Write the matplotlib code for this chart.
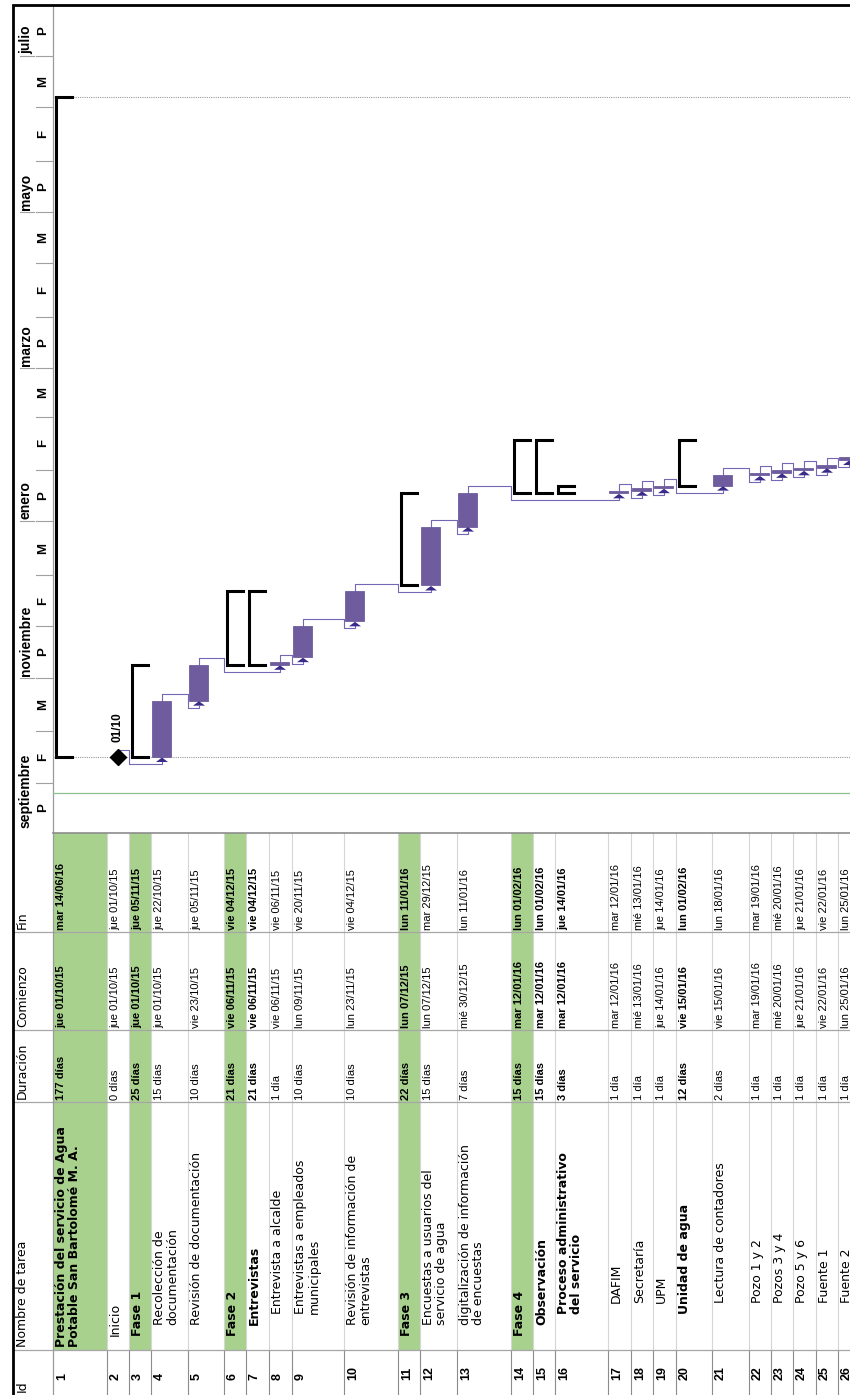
import datetime as dt

import numpy as np
import matplotlib.pyplot as plt
import matplotlib.dates as mdates

plt.rcParams['font.family'] = ['Liberation Sans', 'DejaVu Sans']

# ── Data ──────────────────────────────────────────────────────────────────────
IDS = list(range(1, 27))
NAMES = [
    "Prestación del servicio de Agua\nPotable San Bartolomé M. A.",
    "Inicio",
    "Fase 1",
    "Recolección de\ndocumentación",
    "Revisión de documentación",
    "Fase 2",
    "Entrevistas",
    "Entrevista a alcalde",
    "Entrevistas a empleados\nmunicipales",
    "Revisión de información de\nentrevistas",
    "Fase 3",
    "Encuestas a usuarios del\nservicio de agua",
    "digitalización de información\nde encuestas",
    "Fase 4",
    "Observación",
    "Proceso administrativo\ndel servicio",
    "DAFIM",
    "Secretaría",
    "UPM",
    "Unidad de agua",
    "Lectura de contadores",
    "Pozo 1 y 2",
    "Pozos 3 y 4",
    "Pozo 5 y 6",
    "Fuente 1",
    "Fuente 2",
]
DURATION_DAYS = [177, 0, 25, 15, 10, 21, 21, 1, 10, 10, 22, 15, 7,
                 15, 15, 3, 1, 1, 1, 12, 2, 1, 1, 1, 1, 1]
START = ["2015-10-01", "2015-10-01", "2015-10-01", "2015-10-01", "2015-10-23",
         "2015-11-06", "2015-11-06", "2015-11-06", "2015-11-09", "2015-11-23",
         "2015-12-07", "2015-12-07", "2015-12-30", "2016-01-12", "2016-01-12",
         "2016-01-12", "2016-01-12", "2016-01-13", "2016-01-14", "2016-01-15",
         "2016-01-15", "2016-01-19", "2016-01-20", "2016-01-21", "2016-01-22",
         "2016-01-25"]
FINISH = ["2016-06-14", "2015-10-01", "2015-11-05", "2015-10-22", "2015-11-05",
          "2015-12-04", "2015-12-04", "2015-11-06", "2015-11-20", "2015-12-04",
          "2016-01-11", "2015-12-29", "2016-01-11", "2016-02-01", "2016-02-01",
          "2016-01-14", "2016-01-12", "2016-01-13", "2016-01-14", "2016-02-01",
          "2016-01-18", "2016-01-19", "2016-01-20", "2016-01-21", "2016-01-22",
          "2016-01-25"]
KIND = ["sum", "mile", "sum", "task", "task", "sum", "sum", "task", "task",
        "task", "sum", "task", "task", "sum", "sum", "sum", "task", "task",
        "task", "sum", "task", "task", "task", "task", "task", "task"]
LEVEL = [0, 1, 1, 2, 2, 1, 2, 3, 3, 2, 1, 2, 2, 1, 2, 3, 4, 4, 4, 3,
         4, 4, 4, 4, 4, 4]
PHASES = [1, 3, 6, 11, 14]          # rows shaded green in the table
LINKS = [(2, 4), (4, 5), (5, 8), (8, 9), (9, 10), (10, 12), (12, 13),
         (13, 17), (17, 18), (18, 19), (19, 21), (21, 22), (22, 23),
         (23, 24), (24, 25), (25, 26)]

MONTH_LABELS = ["septiembre", "noviembre", "enero", "marzo", "mayo", "julio"]
MONTH_STARTS = ["2015-09-01", "2015-11-01", "2016-01-01", "2016-03-01",
                "2016-05-01", "2016-07-01"]
THIRD_LABELS = ["P", "F", "M"] * 6
THIRD_STARTS = ["2015-09-01", "2015-09-21", "2015-10-11", "2015-11-01",
                "2015-11-21", "2015-12-11", "2016-01-01", "2016-01-21",
                "2016-02-11", "2016-03-01", "2016-03-21", "2016-04-11",
                "2016-05-01", "2016-05-21", "2016-06-11", "2016-07-01",
                "2016-07-21", "2016-08-11"]
STATUS_DATE = "2015-09-17"

HEADERS = ["Id", "Nombre de tarea", "Duración", "Comienzo", "Fin"]
WEEKDAYS = ["lun", "mar", "mié", "jue", "vie", "sáb", "dom"]

# ── Layout (pixels, rotated printout) ─────────────────────────────────────────
W, H = 850, 1395
ROW_HEIGHTS = [54, 22, 22, 37, 36, 22, 23, 23, 52, 54, 22, 37, 54, 22, 22,
               53, 23, 22, 23, 36, 37, 22, 22, 23, 22, 22]
ROW0 = 53
CHART_TOP, CHART_BOT = 5, 833
LEFT = 13
COL_EDGES = [1395, 1350, 1102, 1030, 932, 833]   # Id | Nombre | Dur | Com | Fin
PX_PER_DAY = 2.56
Y_PROJECT_START = 757

BAR_COLOR = "#6e5c9e"
LINK_COLOR = "#7565b5"
ARROW_COLOR = "#3a2a8a"
GREEN = "#a9d18e"
FS = 8
NAME_FONT = ['DejaVu Sans']
NAME_FS = 9
SCALE_FONT = ['Liberation Sans Narrow', 'Liberation Sans']

row_top = ROW0 + np.concatenate([[0], np.cumsum(ROW_HEIGHTS)])
d_start = mdates.datestr2num(START)
d_end = mdates.datestr2num(FINISH) + 1          # bars end at end of finish day
d0 = mdates.datestr2num("2015-10-01")
D_TOP = d0 + (Y_PROJECT_START - CHART_TOP) / PX_PER_DAY
D_BOT = d0 - (CHART_BOT - Y_PROJECT_START) / PX_PER_DAY
day_px = 1 / PX_PER_DAY


def fmt_date(s):
    d = dt.date.fromisoformat(s)
    return f"{WEEKDAYS[d.weekday()]} {d:%d/%m/%y}"


def fmt_dur(n):
    return f"{n} día" if n == 1 else f"{n} días"


fig = plt.figure(figsize=(W / 100, H / 100), dpi=100)

# background / table axes in pixel coordinates
bg = fig.add_axes([0, 0, 1, 1])
bg.set_xlim(0, W)
bg.set_ylim(H, 0)
bg.axis("off")

# chart axes: x in pixels (rows), y in dates
ax = fig.add_axes([LEFT / W, 1 - CHART_BOT / H, (W - LEFT) / W,
                   (CHART_BOT - CHART_TOP) / H])
ax.set_xlim(LEFT, W)
ax.set_ylim(D_BOT, D_TOP)
ax.axis("off")
ax.patch.set_alpha(0)

# ── Table ─────────────────────────────────────────────────────────────────────
for rid in PHASES:
    i = rid - 1
    bg.bar(row_top[i], COL_EDGES[1] - CHART_BOT, width=ROW_HEIGHTS[i],
           bottom=CHART_BOT, align="edge", color=GREEN, lw=0, zorder=0)

for x in row_top[1:]:
    bg.plot([x, x], [CHART_BOT, COL_EDGES[1]], color="#d6d6d6", lw=0.8, zorder=1)
    bg.plot([x, x], [COL_EDGES[1], H], color="#8c8c8c", lw=0.8, zorder=1)
for y in COL_EDGES[1:-1]:
    bg.plot([LEFT, W], [y, y], color="#a6a6a6", lw=0.9, zorder=1)
bg.plot([ROW0, ROW0], [CHART_TOP, H], color="#9a9a9a", lw=0.9, zorder=1)
bg.plot([ROW0, W], [CHART_BOT, CHART_BOT], color="#8c8c8c", lw=1.2, zorder=1)

# outer border
bg.plot([LEFT, LEFT, W], [H, CHART_TOP, CHART_TOP], color="black", lw=2,
        solid_joinstyle="miter", zorder=3)

txt = dict(rotation=90, rotation_mode="anchor", ha="left", va="top",
           color="black")
for k, label in enumerate(HEADERS):
    bg.text(16, COL_EDGES[k] - 3, label, fontsize=NAME_FS, family=NAME_FONT,
            **txt)

for i in range(len(IDS)):
    bold = "bold" if KIND[i] == "sum" else "normal"
    x = row_top[i] + 3
    bg.text(x, 1380, str(IDS[i]), fontweight="bold", fontsize=FS + 1, **txt)
    bg.text(x - 1, COL_EDGES[1] - 3 - 11 * LEVEL[i], NAMES[i], fontweight=bold,
            fontsize=NAME_FS, family=NAME_FONT, linespacing=1.05, **txt)
    bg.text(x, COL_EDGES[2] - 2, fmt_dur(DURATION_DAYS[i]), fontweight=bold,
            fontsize=FS, **txt)
    bg.text(x, COL_EDGES[3] - 2, fmt_date(START[i]), fontweight=bold,
            fontsize=FS, **txt)
    bg.text(x, COL_EDGES[4] - 2, fmt_date(FINISH[i]), fontweight=bold,
            fontsize=FS, **txt)

# ── Timescale ─────────────────────────────────────────────────────────────────
m_num = mdates.datestr2num(MONTH_STARTS)
for lab, m in zip(MONTH_LABELS, m_num):
    if D_BOT < m < D_TOP:
        ax.plot([20, 34], [m, m], color="#a0a0a0", lw=0.8)
    ybase = max(m, D_BOT + 1.2) + 0.8
    ax.text(19, ybase, lab, fontweight="bold", fontsize=10, family=SCALE_FONT,
            clip_on=True, **txt)

t_num = mdates.datestr2num(THIRD_STARTS)
for k, lab in enumerate(THIRD_LABELS):
    a, b = t_num[k], t_num[k + 1] if k + 1 < len(t_num) else t_num[k] + 20
    if D_BOT < a < D_TOP:
        ax.plot([36, ROW0], [a, a], color="#a0a0a0", lw=0.8)
    lo, hi = max(a, D_BOT), min(b, D_TOP)
    if hi > lo:
        ax.text(43, (lo + hi) / 2, lab, rotation=90, ha="center", va="center",
                fontsize=9.5, fontweight="bold", family=SCALE_FONT)

# project start / finish dotted lines, status line
for d in (d_start[0], d_end[0]):
    ax.plot([ROW0, W], [d, d], color="#9a9a9a", lw=0.8, ls=(0, (1, 1)), zorder=1)
sd = mdates.datestr2num(STATUS_DATE)
ax.plot([ROW0, W], [sd, sd], color="#8cc08c", lw=0.9, zorder=1)

# ── Gantt bars ────────────────────────────────────────────────────────────────
centers = row_top[:-1] + 11
for i in range(len(IDS)):
    r = row_top[i]
    if KIND[i] == "task":
        ax.bar(r + 1.5, d_end[i] - d_start[i], width=19, bottom=d_start[i],
               align="edge", color=BAR_COLOR, edgecolor=BAR_COLOR, lw=0.6,
               zorder=3)
    elif KIND[i] == "sum":
        ax.plot([r + 19, r + 3.5, r + 3.5, r + 19],
                [d_end[i], d_end[i], d_start[i], d_start[i]],
                color="black", lw=2.2, solid_joinstyle="miter", zorder=3)
    else:
        ax.plot(centers[i], d_start[i], marker="D", ms=8, color="black",
                zorder=4)
        ax.annotate(fmt_date(START[i])[4:9], (centers[i], d_start[i]),
                    xytext=(-6, 15), textcoords="offset pixels",
                    fontweight="bold", fontsize=FS + 0.5, **txt)

# ── Links ─────────────────────────────────────────────────────────────────────
off = 7 * day_px
for p, s in LINKS:
    ip, is_ = p - 1, s - 1
    yp = d_start[ip] if KIND[ip] == "mile" else d_end[ip]
    ys = d_start[is_]
    xp, xs, xt = centers[ip], centers[is_], row_top[p]
    ax.plot([xp, xp, xt, xt, xs, xs],
            [yp, yp + off, yp + off, ys - off, ys - off, ys - 5 * day_px],
            color=LINK_COLOR, lw=0.8, zorder=2)
    ax.fill([xs - 6, xs + 6, xs], [ys - 5 * day_px, ys - 5 * day_px,
                                   ys - 0.5 * day_px],
            color=ARROW_COLOR, lw=0, zorder=4)

fig.savefig("out.png", dpi=100)
